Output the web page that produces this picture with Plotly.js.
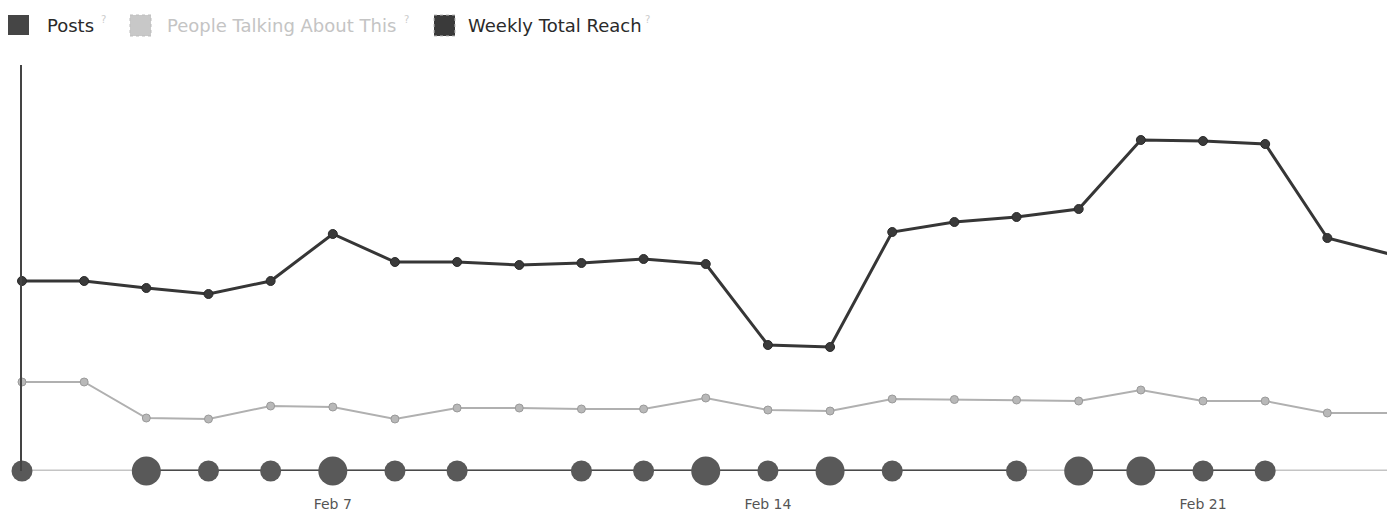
<!DOCTYPE html>
<html>
<head>
<meta charset="utf-8">
<script src="https://cdn.plot.ly/plotly-3.0.1.min.js"></script>
<style>
  html, body { margin: 0; padding: 0; background: #ffffff; }
  #chart { width: 1387px; height: 514px; }
</style>
</head>
<body>
<div id="chart"></div>
<script>
// ---- data ----
const dates = [
  '2013-02-02','2013-02-03','2013-02-04','2013-02-05','2013-02-06','2013-02-07',
  '2013-02-08','2013-02-09','2013-02-10','2013-02-11','2013-02-12','2013-02-13',
  '2013-02-14','2013-02-15','2013-02-16','2013-02-17','2013-02-18','2013-02-19',
  '2013-02-20','2013-02-21','2013-02-22','2013-02-23','2013-02-24'
];
const weeklyTotalReach = [1900,1900,1830,1770,1900,2370,2090,2090,2060,2080,2120,2070,
                          1260,1240,2390,2490,2540,2620,3310,3300,3270,2330,2170];
const peopleTalking = [890,890,530,520,650,640,520,630,630,620,620,730,
                       610,600,720,715,710,700,810,700,700,580,580];
const posts = [1,0,2,1,1,2,1,1,0,1,1,2,1,2,1,0,1,2,2,1,1,0,0];
const tickDates = ['2013-02-07','2013-02-14','2013-02-21'];
const tickLabels = ['Feb 7','Feb 14','Feb 21'];
const legendLabels = ['Posts', 'People Talking About This', 'Weekly Total Reach'];
// index ranges where the posts baseline is drawn dark
const darkSegments = [[2,16],[17,20]];

// ---- traces ----
const traces = [];
traces.push({
  x: dates, y: dates.map(() => 0), type: 'scatter', mode: 'lines',
  line: {color: '#c4c4c4', width: 3}, hoverinfo: 'skip', showlegend: false, cliponaxis: false
});
darkSegments.forEach(seg => {
  const xs = dates.slice(seg[0], seg[1] + 1);
  traces.push({
    x: xs, y: xs.map(() => 0), type: 'scatter', mode: 'lines',
    line: {color: '#4a4a4a', width: 3}, hoverinfo: 'skip', showlegend: false, cliponaxis: false
  });
});
traces.push({
  name: legendLabels[0], x: dates, y: posts.map(p => p > 0 ? 0 : null),
  type: 'scatter', mode: 'markers', cliponaxis: false, showlegend: false,
  text: posts.map(String),
  marker: {color: '#595959', opacity: 1, size: posts.map(p => 13 + 8 * p), line: {width: 0}}
});
traces.push({
  name: legendLabels[1], x: dates, y: peopleTalking,
  type: 'scatter', mode: 'lines+markers', cliponaxis: false, showlegend: false,
  line: {color: '#b0b0b0', width: 2},
  marker: {color: '#b8b8b8', opacity: 1, size: 8, line: {color: '#9a9a9a', width: 1}}
});
traces.push({
  name: legendLabels[2], x: dates, y: weeklyTotalReach,
  type: 'scatter', mode: 'lines+markers', cliponaxis: false, showlegend: false,
  line: {color: '#363636', width: 3},
  marker: {color: '#3a3a3a', opacity: 1, size: 9, line: {color: '#2a2a2a', width: 1}}
});

// ---- legend built from annotations / swatches ----
const L = 22, W = 1365, B = 471, H = 406;
const px = v => (v - L) / W;
const py = v => (B - v) / H;
const legendFont = {family: 'DejaVu Sans, Tahoma, sans-serif', size: 18, color: '#2a2a2a'};
const qFont = {family: 'DejaVu Sans, Tahoma, sans-serif', size: 10, color: '#cccccc'};

const shapes = [
  {type: 'rect', xref: 'paper', yref: 'paper', x0: px(8), x1: px(29), y0: py(35), y1: py(15),
   fillcolor: '#454545', line: {width: 0}},
  {type: 'rect', xref: 'paper', yref: 'paper', x0: px(130), x1: px(151), y0: py(36), y1: py(15),
   fillcolor: '#c8c8c8', line: {color: '#bdbdbd', width: 1, dash: 'dot'}},
  {type: 'rect', xref: 'paper', yref: 'paper', x0: px(434), x1: px(455), y0: py(36), y1: py(15),
   fillcolor: '#3a3a3a', line: {color: '#bbbbbb', width: 1, dash: 'dot'}}
];
const legendX = [45, 165, 466];
const qX = [99, 402, 643];
const annotations = [];
legendLabels.forEach((lab, i) => {
  annotations.push({
    xref: 'paper', yref: 'paper', x: px(legendX[i]), y: py(26), xanchor: 'left', yanchor: 'middle',
    showarrow: false, text: lab,
    font: i === 1 ? Object.assign({}, legendFont, {color: '#c4c4c4'}) : legendFont
  });
  annotations.push({
    xref: 'paper', yref: 'paper', x: px(qX[i]), y: py(19), xanchor: 'left', yanchor: 'middle',
    showarrow: false, text: '?', font: qFont
  });
});

const t0 = new Date(dates[0] + 'T00:00:00Z').getTime();
const span = (dates.length - 1) * 86400000 * 1365 / 1367.5;
const rangeEnd = new Date(t0 + span).toISOString().replace('T', ' ').replace('Z', '');

const layout = {
  width: 1387, height: 514,
  margin: {l: L, r: 0, t: 65, b: 514 - B, pad: 0},
  paper_bgcolor: '#ffffff', plot_bgcolor: '#ffffff',
  showlegend: false,
  xaxis: {
    type: 'date', range: [dates[0], rangeEnd],
    tickvals: tickDates, ticktext: tickLabels,
    ticks: 'outside', ticklen: 20, tickcolor: 'rgba(0,0,0,0)',
    tickfont: {family: 'DejaVu Sans, Tahoma, sans-serif', size: 14, color: '#555555'},
    showgrid: false, zeroline: false, showline: false, fixedrange: true
  },
  yaxis: {
    range: [0, 4060], showticklabels: false, ticks: '',
    showgrid: false, zeroline: false,
    showline: true, linecolor: '#444444', linewidth: 2, fixedrange: true
  },
  shapes: shapes,
  annotations: annotations
};

Plotly.newPlot('chart', traces, layout, {displayModeBar: false, staticPlot: true});
</script>
</body>
</html>
